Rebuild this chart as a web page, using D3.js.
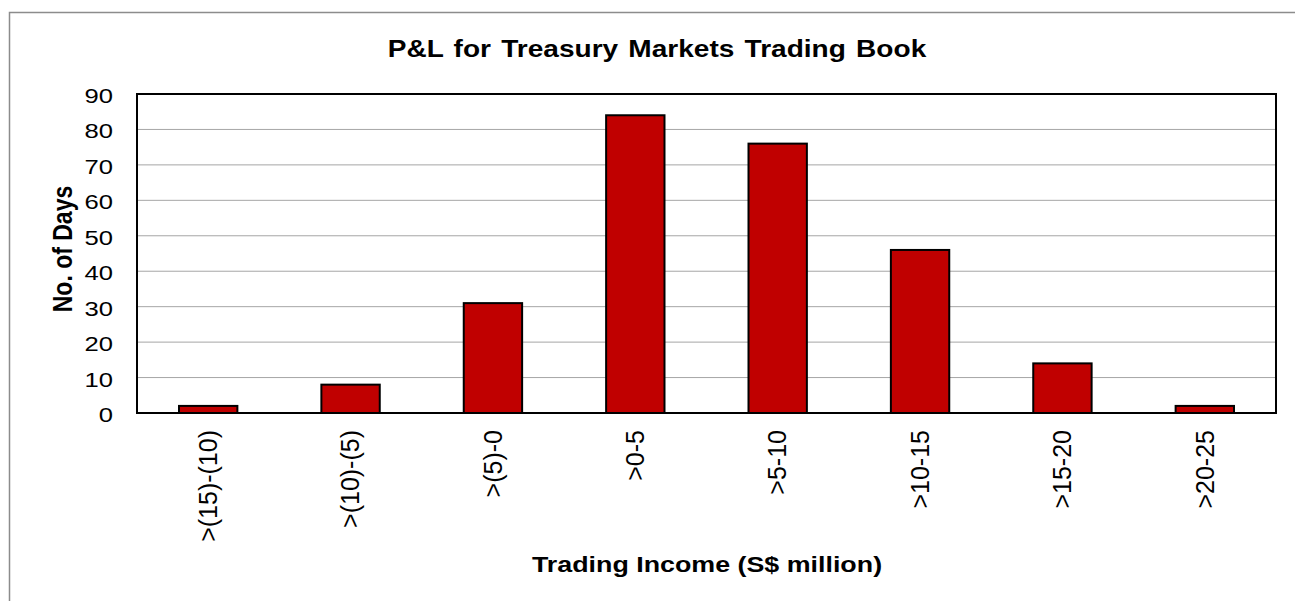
<!DOCTYPE html>
<html>
<head>
<meta charset="utf-8">
<script src="https://cdn.jsdelivr.net/npm/d3@7"></script>
<style>
  body { margin: 0; background: #fff; }
  text { font-family: "Liberation Sans", Arial, sans-serif; }
</style>
</head>
<body>
<div id="container"></div>
<script>
/* DATA */
const categories = [">(15)-(10)", ">(10)-(5)", ">(5)-0", ">0-5", ">5-10", ">10-15", ">15-20", ">20-25"];
const days = [2, 8, 31, 84, 76, 46, 14, 2];
const yTicks = [0, 10, 20, 30, 40, 50, 60, 70, 80, 90];

/* CONSTANTS */
const width = 1295, height = 601,
      margin = { top: 94, bottom: 188, left: 137, right: 19 };
const stretch = 1.22; // text in the picture is drawn a bit wide

const svg = d3.select("#container")
  .append("svg")
  .attr("width", width)
  .attr("height", height);

// outer chart frame
svg.append("rect")
  .attr("x", 9.5).attr("y", 12.5)
  .attr("width", 1300).attr("height", 600)
  .attr("fill", "none")
  .attr("stroke", "#8c8c8c")
  .attr("stroke-width", 1.5);

// SCALES
const x = d3.scaleBand()
  .domain(categories)
  .range([margin.left, width - margin.right])
  .paddingInner(0.59)
  .paddingOuter(0.295);

const y = d3.scaleLinear()
  .domain([0, 90])
  .range([height - margin.bottom, margin.top]);

// gridlines
svg.append("g")
  .selectAll("line")
  .data(yTicks.slice(1, -1))
  .join("line")
  .attr("x1", margin.left).attr("x2", width - margin.right)
  .attr("y1", d => y(d)).attr("y2", d => y(d))
  .attr("stroke", "#a6a6a6")
  .attr("stroke-width", 1);

// y tick labels
svg.append("g")
  .selectAll("text")
  .data(yTicks)
  .join("text")
  .attr("transform", d => `translate(113,${y(d)}) scale(${stretch},1)`)
  .attr("text-anchor", "end")
  .attr("dy", "0.43em")
  .attr("font-size", "21px")
  .text(d => d);

// x tick labels
const xAxis = svg.append("g")
  .attr("transform", `translate(0,${y(0)})`)
  .call(d3.axisBottom(x).tickSize(0));
xAxis.select(".domain").remove();
xAxis.selectAll("text")
  .attr("font-size", "25px")
  .attr("fill", "#000")
  .attr("font-family", "Liberation Sans, Arial, sans-serif")
  .attr("text-anchor", "end")
  .attr("transform", "rotate(-90)")
  .attr("x", -17)
  .attr("y", 0)
  .attr("dy", "0.35em");

// bars
svg.append("g")
  .selectAll("rect")
  .data(days)
  .join("rect")
  .attr("x", (d, i) => x(categories[i]))
  .attr("y", d => y(d))
  .attr("width", x.bandwidth())
  .attr("height", d => y(0) - y(d))
  .attr("fill", "#c00000")
  .attr("stroke", "#000")
  .attr("stroke-width", 2);

// plot area border
svg.append("rect")
  .attr("x", margin.left).attr("y", margin.top)
  .attr("width", width - margin.left - margin.right)
  .attr("height", y(0) - margin.top)
  .attr("fill", "none")
  .attr("stroke", "#000")
  .attr("stroke-width", 2);

// titles
svg.append("text")
  .attr("transform", `translate(657,57) scale(${stretch},1)`)
  .attr("text-anchor", "middle")
  .attr("font-size", "23px")
  .attr("font-weight", "bold")
  .attr("word-spacing", "2px")
  .text("P&L for Treasury Markets Trading Book");

svg.append("text")
  .attr("transform", `translate(707,572) scale(${stretch},1)`)
  .attr("text-anchor", "middle")
  .attr("font-size", "22px")
  .attr("font-weight", "bold")
  .text("Trading Income (S$ million)");

svg.append("text")
  .attr("transform", `translate(72,249) scale(${stretch},1) rotate(-90)`)
  .attr("text-anchor", "middle")
  .attr("font-size", "23px")
  .attr("font-weight", "bold")
  .text("No. of Days");
</script>
</body>
</html>
